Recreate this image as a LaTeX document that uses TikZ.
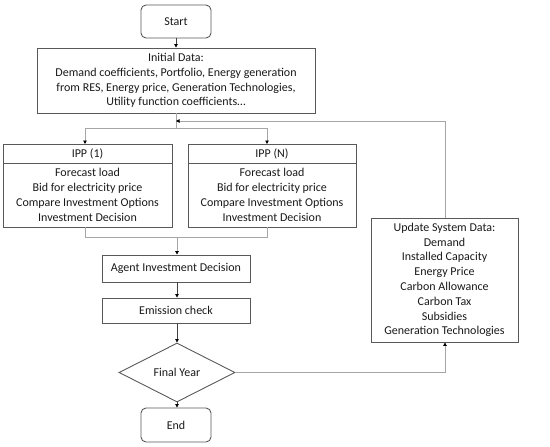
\documentclass[tikz,border=0pt]{standalone}
\usepackage{fontspec}
\setmainfont{Carlito}
\usetikzlibrary{shapes.geometric,arrows.meta}
\definecolor{boxc}{HTML}{595959}
\definecolor{darkln}{HTML}{404040}
\definecolor{lightln}{HTML}{A6A6A6}
\begin{document}
\begin{tikzpicture}[x=1pt,y=-1pt,
  box/.style={draw=boxc,line width=0.9pt,inner sep=0pt,align=center,text=black!90,font=\fontsize{12}{14.8}\selectfont},
  rbox/.style={box,rounded corners=5pt},
  dia/.style={draw=boxc,line width=0.9pt,diamond,inner sep=0pt,text=black!90,font=\fontsize{12}{14.8}\selectfont},
  tip/.style={-{Triangle[length=3.5pt,width=3.5pt,color=black]}},
  dark/.style={draw=darkln,line width=0.8pt},
  light/.style={draw=lightln,line width=1pt}]
\useasboundingbox (0,0) rectangle (550,447);
\node[rbox,minimum width=70,minimum height=33] (start) at (176,21.5) {Start};
\node[box,minimum width=278,minimum height=65] (init) at (176,80.5) {Initial Data:\\Demand coefficients, Portfolio, Energy generation\\from RES, Energy price, Generation Technologies,\\Utility function coefficients\dots};
\node[box,minimum width=169,minimum height=19] (ipp1h) at (87.5,153.5) {IPP (1)};
\node[box,minimum width=169,minimum height=64] (ipp1b) at (87.5,195) {Forecast load\\Bid for electricity price\\Compare Investment Options\\Investment Decision};
\node[box,minimum width=168,minimum height=19] (ippnh) at (272,153.5) {IPP (N)};
\node[box,minimum width=168,minimum height=64] (ippnb) at (272,195) {Forecast load\\Bid for electricity price\\Compare Investment Options\\Investment Decision};
\node[box,minimum width=148,minimum height=27] (agent) at (176,268.5) {Agent Investment Decision};
\node[box,minimum width=148,minimum height=25] (emis) at (176,310.5) {Emission check};
\node[dia,minimum width=116,minimum height=59] (final) at (177,372.5) {Final Year};
\node[rbox,minimum width=70,minimum height=34] (end) at (176,425) {End};
\node[box,minimum width=147,minimum height=124] (upd) at (444.5,280) {Update System Data:\\Demand\\Installed Capacity\\Energy Price\\Carbon Allowance\\Carbon Tax\\Subsidies\\Generation Technologies};
\coordinate (split) at (176,128);
\coordinate (fb) at (176,121);
\coordinate (merge) at (177,237);
\draw[dark,tip] (start) -- (init);
\draw[light] (init.south) -- (split);
\draw[light,tip] (split) -- (85,128) -- (85,144);
\draw[light,tip] (split) -- (267,128) -- (267,144);
\draw[light] (85,227) -- (85,237) -- (267,237) -- (267,227);
\draw[light,tip] (merge) -- (agent.north -| merge);
\draw[dark,tip] (agent.south -| merge) -- (emis.north -| merge);
\draw[dark,tip] (emis.south -| merge) -- (final.north);
\draw[dark,tip] (final.south) -- (end.north -| final.south);
\draw[light,tip] (final.east) -- (445,372.5) -- (upd.south -| 445,0);
\draw[light,tip] (upd.north -| 445,0) -- (445,121) -- (fb);
\end{tikzpicture}
\end{document}
